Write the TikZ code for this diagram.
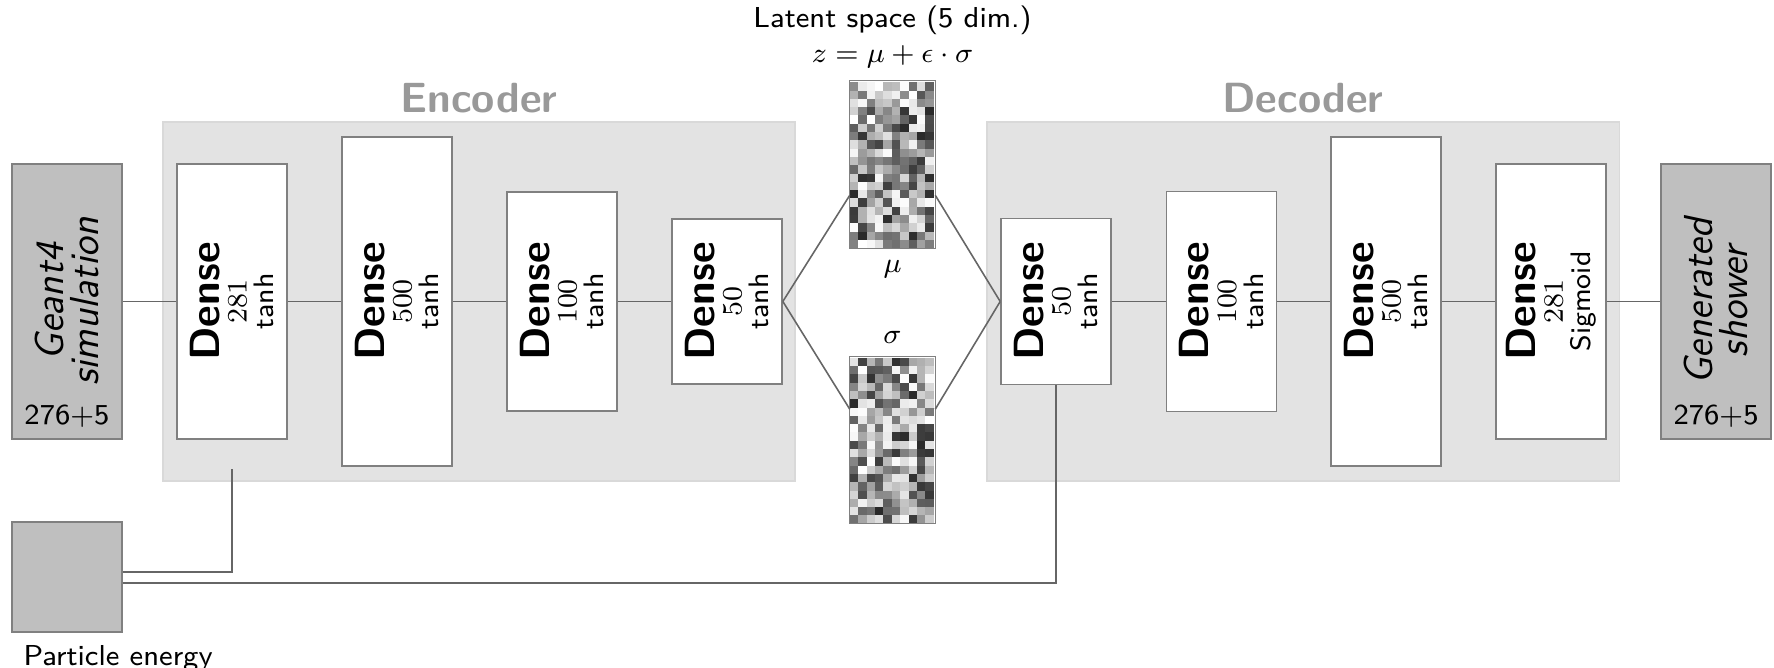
\documentclass[tikz,border=0pt]{standalone}
\usepackage{amsmath}
\usepackage{graphicx, xcolor}
\usepackage{tikz}
\usetikzlibrary{calc, positioning}
\renewcommand{\familydefault}{\sfdefault}

\begin{document}
\begin{tikzpicture}[x=0.01cm, y=0.01cm,
  panel/.style = {fill=gray!22, draw=gray!30, line width=0.4pt, minimum width=6.32cm, minimum height=3.59cm, inner sep=0pt},
  paneltitle/.style = {anchor=base, text=gray!80, font=\fontsize{12}{14}\selectfont\bfseries},
  layer/.style = {draw=gray, fill=white, line width=0.45pt, minimum width=1.1cm, inner sep=0pt},
  layertext/.style = {rotate=90, align=center, font=\fontsize{8}{7.8}\selectfont},
  iobox/.style = {draw=gray, fill=gray!50, line width=0.45pt, minimum width=1.1cm, minimum height=2.75cm, inner sep=0pt},
  iotext/.style = {rotate=90, align=center, font=\fontsize{11.5}{10}\selectfont\itshape},
  txt/.style = {font=\fontsize{8.2}{10}\selectfont},
  conn/.style = {draw=black!60, line width=0.45pt},
  latent/.style = {minimum width=0.84cm, minimum height=1.66cm, inner sep=0pt},
]
\useasboundingbox (0,0) rectangle (1774,668);

% encoder / decoder panels
\node[panel] (encpanel) at (479,366.5) {};
\node[panel] (decpanel) at (1303,366.5) {};
\node[paneltitle] (enctitle) at ($(encpanel.north)+(0,9)$) {Encoder};
\node[paneltitle] (dectitle) at ($(decpanel.north)+(0,9)$) {Decoder};

% input, output and condition
\node[iobox] (geant) at (67,366.5) {};
\node[iotext] (geant-txt) at (geant) {Geant4\\simulation};
\node[txt, anchor=south] (geant-dim) at (geant.south) {276+5};
\node[iobox] (gen) at (1716,366.5) {};
\node[iotext] (gen-txt) at (gen) {Generated\\shower};
\node[txt, anchor=south] (gen-dim) at (gen.south) {276+5};
\node[iobox, minimum height=1.1cm] (energy) at (67,91) {};
\node[txt, anchor=north west] (energy-txt) at (energy.south west) {Particle energy};

% dense layers
\foreach \name/\x/\h/\n/\act in {enc1/232/2.75/281/tanh, enc2/397/3.29/500/tanh,
    enc3/562/2.19/100/tanh, enc4/727/1.65/50/tanh, dec1/1056/1.66/50/tanh,
    dec2/1221.5/2.2/100/tanh, dec3/1386/3.29/500/tanh, dec4/1551/2.75/281/Sigmoid}
{
  \node[layer, minimum height=\h cm] (\name) at (\x,366.5) {};
  \node[layertext] (\name-txt) at (\name) {{\fontsize{12}{7.8}\selectfont\bfseries Dense}\\$\n$\\\act};
}

% latent space
\node[latent] (mu) at (892.5,503.5) {};
\node[latent] (sigma) at (892.5,228) {};
\pgfmathsetseed{281}
\foreach \img in {mu, sigma} {
  \begin{scope}[shift={(\img.south west)}]
    \foreach \i in {0,...,9}
      \foreach \j in {0,...,19} {
        \pgfmathtruncatemacro\g{85*pow(rnd,1.2)}
        \fill[black!\g] (\i*8.4,\j*8.3) rectangle ++(8.4,8.3);
      }
  \end{scope}
  \draw[gray, line width=0.4pt] (\img.south west) rectangle (\img.north east);
}
\node[txt, anchor=north] (mu-txt) at (mu.south) {$\mu$};
\node[txt, anchor=south] (sigma-txt) at (sigma.north) {$\sigma$};
\node[txt, anchor=south, align=center] (latent-txt) at (mu.north) {Latent space (5 dim.)\\$z = \mu + \epsilon\cdot\sigma$};

% connections
\draw[conn] (geant) -- (enc1);
\foreach \a/\b in {enc1/enc2, enc2/enc3, enc3/enc4, dec1/dec2, dec2/dec3, dec3/dec4}
  \draw[conn] (\a) -- (\b);
\draw[conn] (dec4) -- (gen);

\coordinate (muin) at ($(mu.south west)+(0,53)$);
\coordinate (muout) at ($(mu.south east)+(0,53)$);
\coordinate (sigin) at ($(sigma.north west)+(0,-53)$);
\coordinate (sigout) at ($(sigma.north east)+(0,-53)$);
\draw[conn] (enc4.east) -- (muin);
\draw[conn] (enc4.east) -- (sigin);
\draw[conn] (muout) -- (dec1.west);
\draw[conn] (sigout) -- (dec1.west);

\coordinate (econd) at ($(enc1.south)+(0,-29)$);
\draw[conn] ($(energy.east)+(0,5)$) -| (econd);
\draw[conn] ($(energy.east)+(0,-6)$) -| (dec1.south);
\end{tikzpicture}
\end{document}
